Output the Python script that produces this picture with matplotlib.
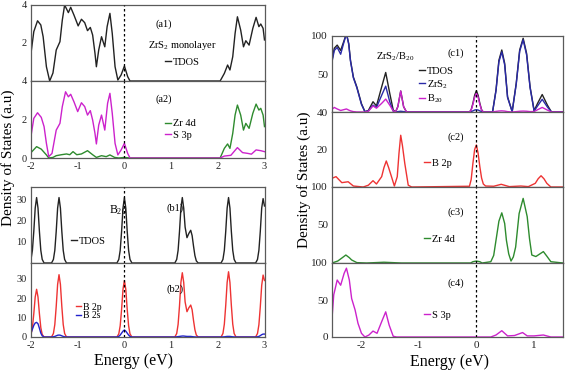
import matplotlib
matplotlib.use("Agg")
import matplotlib.pyplot as plt

plt.rcParams['font.family'] = ['Liberation Serif', 'DejaVu Serif']
plt.rcParams['mathtext.fontset'] = 'custom'
plt.rcParams['mathtext.rm'] = 'Liberation Serif'
plt.rcParams['mathtext.it'] = 'Liberation Serif'
plt.rcParams['axes.unicode_minus'] = False

W, H = 567, 371

# ---- ZrS2 monolayer (a1, a2), energy in eV ----
a1_x = [-2.0, -1.94, -1.86, -1.79, -1.74, -1.67, -1.6, -1.53, -1.46, -1.38, -1.33, -1.28, -1.2,
        -1.15, -1.08, -0.99, -0.92, -0.85, -0.79, -0.73, -0.68, -0.63, -0.6, -0.55, -0.49, -0.42,
        -0.37, -0.31, -0.26, -0.2, -0.14, -0.07, 0.0, 0.07, 0.12, 2.05, 2.14, 2.21, 2.26, 2.32,
        2.37, 2.42, 2.49, 2.55, 2.6, 2.67, 2.75, 2.82, 2.88, 2.92, 2.97, 3.0]
a1_tdos = [1.46, 2.6, 3.17, 2.95, 2.33, 0.75, 0.0, 0.42, 1.63, 2.07, 3.2, 4.0, 3.6, 3.88, 3.47,
           2.9, 3.25, 3.07, 2.65, 2.82, 2.42, 1.46, 0.75, 1.63, 2.33, 1.8, 2.86, 3.56, 2.5, 0.75,
           0.05, 0.32, 0.79, 0.23, 0.0, 0.0, 0.4, 0.84, 0.58, 1.28, 2.5, 3.38, 2.68, 1.8, 2.12,
           1.89, 2.77, 3.35, 2.86, 3.0, 2.77, 2.16]

s3p_a_x = [-2.0, -1.94, -1.86, -1.78, -1.72, -1.67, -1.62, -1.55, -1.46, -1.38, -1.33, -1.26,
           -1.2, -1.15, -1.08, -1.0, -0.92, -0.85, -0.79, -0.73, -0.68, -0.63, -0.6, -0.55, -0.49,
           -0.42, -0.36, -0.31, -0.26, -0.2, -0.14, -0.07, 0.0, 0.07, 0.12, 2.05, 2.14, 2.28,
           2.42, 2.53, 2.64, 2.72, 2.82, 2.92, 3.0]
s3p_a_y = [1.14, 2.06, 2.35, 2.11, 1.63, 0.76, 0.07, 0.24, 1.45, 1.8, 2.67, 3.44, 3.18, 3.31,
           2.92, 2.41, 2.87, 2.67, 2.23, 2.46, 1.97, 1.28, 0.73, 1.71, 2.23, 1.45, 2.84, 3.36,
           2.32, 0.76, 0.16, 0.42, 0.76, 0.24, 0.0, 0.0, 0.1, 0.14, 0.54, 0.28, 0.24, 0.2, 0.42,
           0.38, 0.33]

zr4d_a_x = [-2.0, -1.88, -1.78, -1.67, -1.62, -1.53, -1.46, -1.35, -1.24, -1.17, -1.1, -1.02,
            -0.92, -0.79, -0.68, -0.6, -0.49, -0.39, -0.31, -0.21, -0.12, 0.0, 0.12, 2.05, 2.14,
            2.21, 2.26, 2.32, 2.37, 2.42, 2.49, 2.55, 2.6, 2.67, 2.75, 2.82, 2.88, 2.92, 2.97, 3.0]
zr4d_a_y = [0.28, 0.59, 0.46, 0.16, 0.0, 0.03, 0.12, 0.17, 0.21, 0.17, 0.33, 0.17, 0.21, 0.38,
            0.17, 0.03, 0.12, 0.07, 0.16, 0.03, 0.0, 0.03, 0.0, 0.0, 0.5, 0.73, 0.5, 1.28, 2.23,
            2.75, 2.23, 1.45, 1.8, 1.54, 2.32, 2.8, 2.49, 2.58, 2.23, 1.63]

# ---- B20 (b1, b2) ----
b_x = [-2.0, -1.97, -1.94, -1.91, -1.88, -1.85, -1.82, -1.79, -1.76, -1.72,
       -1.56, -1.52, -1.49, -1.46, -1.43, -1.40, -1.37, -1.34, -1.31, -1.28, -1.24,
       -0.16, -0.12, -0.09, -0.06, -0.03, 0.0, 0.03, 0.06, 0.09, 0.12, 0.16,
       1.08, 1.12, 1.15, 1.18, 1.21, 1.24, 1.27, 1.30, 1.34, 1.38, 1.42, 1.45, 1.48, 1.51, 1.54, 1.58,
       2.07, 2.11, 2.14, 2.17, 2.20, 2.23, 2.26, 2.29, 2.32, 2.35, 2.39,
       2.81, 2.85, 2.88, 2.91, 2.94, 2.97, 3.0]
b1_tdos = [1.7, 6, 15, 26, 31, 26, 15, 6, 1.7, 0,
           0, 1.7, 6, 15, 26, 31, 26, 15, 6, 1.7, 0,
           0, 1.7, 6, 15, 26, 31, 26, 15, 6, 1.7, 0,
           0, 1.7, 6, 15, 26, 31, 26, 17, 12, 14, 15.5, 13, 8, 3.5, 1, 0,
           0, 1.7, 6, 15, 26, 31, 26, 15, 6, 1.7, 0,
           0, 1.7, 6, 15, 26, 30.5, 27]
b2_2p = [1.3, 4.8, 12, 20.5, 24.5, 20.5, 12, 4.8, 1.3, 0,
         0, 1.8, 6.4, 15.7, 27, 32, 27, 15.7, 6.4, 1.8, 0,
         0, 1.6, 5.8, 14.2, 24.5, 29, 24.5, 14.2, 5.8, 1.6, 0,
         0, 1.8, 6.5, 16, 28, 33, 28, 18, 13, 15, 16.4, 14, 8.5, 3.7, 1, 0,
         0, 1.8, 6.6, 16.3, 28, 33.5, 28, 16.3, 6.6, 1.8, 0,
         0, 1.8, 6.3, 15.5, 26.5, 31.8, 29]
b2_2s = [2, 4, 6, 7.2, 7.5, 6.8, 4.5, 2, 0.6, 0,
         0, 0.1, 0.3, 0.6, 0.9, 1, 0.9, 0.6, 0.3, 0.1, 0,
         0, 0.3, 1, 2, 3, 3.6, 3, 2, 1, 0.3, 0,
         0, 0.1, 0.2, 0.3, 0.4, 0.5, 0.5, 0.4, 0.3, 0.3, 0.3, 0.2, 0.1, 0.05, 0, 0,
         0, 0.05, 0.1, 0.2, 0.3, 0.3, 0.3, 0.2, 0.1, 0.05, 0,
         0, 0.1, 0.3, 0.7, 1.2, 1.5, 1.5]

# ---- ZrS2/B20 (c1..c4) ----
c1_x = [-2.5, -2.46, -2.41, -2.35, -2.3, -2.25, -2.21, -2.18, -2.13, -2.07, -1.99, -1.93, -1.87,
        -1.79, -1.73, -1.64, -1.57, -1.5, -1.44, -1.4, -1.36, -1.31, -1.26, -1.21, -0.12, -0.09,
        -0.06, -0.03, 0.0, 0.03, 0.06, 0.09, 0.12, 0.28, 0.34, 0.39, 0.44, 0.49, 0.54, 0.62,
        0.69, 0.75, 0.81, 0.87, 0.93, 1.0, 1.06, 1.14, 1.23, 1.3, 1.5]
c1_tdos = [68, 84, 88, 81, 92, 103, 90, 68, 46, 33, 11, 0.4, 2, 13.5, 8, 33, 52, 24.5, 2.6, 0, 7,
           27.6, 7, 0, 0, 3, 11.4, 22, 28, 22, 11.4, 3, 0, 0, 29, 68, 81.6, 64, 20, 0.5, 37.7,
           81.6, 97, 77, 33, 1.8, 11.4, 23, 9, 0, 0]
c1_zrs2 = [66, 81, 85, 76, 90, 103, 89, 67, 45, 32, 10, 0.4, 1.5, 9, 6, 22, 34, 13.5, 1, 0, 0.5,
           1, 0.5, 0, 0, 0.5, 1.5, 2.6, 3, 2.6, 1.5, 0.5, 0, 0, 28, 66, 79, 62, 19, 0.5, 36.5,
           80, 95, 75, 32, 1.2, 8, 16.7, 6.5, 0, 0]
c1_b20 = [3.5, 6, 4, 2, 3, 4, 2.5, 1.5, 0.5, 0, 0, 0, 1, 8, 5, 11.4, 17, 9, 1.5, 0, 7, 27.6, 7,
          0, 0, 2.5, 10, 19.5, 24.5, 19.5, 10, 2.5, 0, 0, 0.8, 1.3, 1.5, 1.2, 0.5, 0, 0.5, 1,
          1.2, 1, 0.5, 0.6, 3, 6, 2.5, 0, 0]

c2_x = [-2.5, -2.43, -2.33, -2.22, -2.13, -1.96, -1.87, -1.79, -1.73, -1.64, -1.6, -1.56, -1.52,
        -1.47, -1.42, -1.37, -1.34, -1.31, -1.28, -1.24, -1.18, -1.12, -0.12, -0.09, -0.06,
        -0.03, 0.0, 0.03, 0.06, 0.09, 0.12, 0.16, 0.3, 0.43, 0.57, 0.77, 0.9, 1.02, 1.07, 1.12,
        1.17, 1.22, 1.29, 1.5]
c2_b2p = [11.6, 13.8, 5.8, 7, 1.3, 0, 2.4, 8.4, 4, 13.8, 26, 34.7, 26, 13.8, 1.3, 13.8, 45, 69,
          55, 31.6, 2.4, 0, 1, 10, 31.6, 50, 56, 45, 27, 12, 4, 1.3, 1, 3.6, 0.5, 1.3, 0.5, 4.9,
          11, 15, 11, 4.9, 0, 0]

c3_x = [-2.5, -2.4, -2.33, -2.26, -2.2, -2.16, -2.07, -1.9, -1.6, -1.3, -0.1, -0.06, 0.0, 0.06,
        0.1, 0.25, 0.3, 0.34, 0.39, 0.44, 0.49, 0.52, 0.56, 0.6, 0.64, 0.68, 0.74, 0.81, 0.88,
        0.92, 0.96, 1.03, 1.1, 1.16, 1.22, 1.29, 1.5]
c3_zr4d = [0, 2.6, 6.5, 10.5, 7, 4, 0.5, 0, 1, 0, 0, 1.7, 2.6, 1.7, 0, 1.7, 10, 30, 55, 66, 52,
           30, 12, 2.6, 8, 21, 65, 85, 61, 32, 10.5, 8.5, 12, 15, 9, 1.7, 0]

c4_x = [-2.5, -2.47, -2.41, -2.35, -2.29, -2.25, -2.2, -2.16, -2.1, -2.05, -1.99, -1.93, -1.86,
        -1.79, -1.72, -1.64, -1.57, -1.51, -1.44, -1.38, 0.25, 0.34, 0.44, 0.54, 0.66, 0.8,
        0.88, 1.0, 1.16, 1.29, 1.5]
c4_s3p = [25, 57, 77, 70, 86, 93, 77, 52, 36.5, 18.5, 5, 0, 2.7, 8, 5, 20.7, 34, 16, 1, 0, 0,
          2.7, 8.5, 1.5, 2, 6, 1.5, 1.5, 2.7, 0, 0]

left_xticks = [-2, -1, 0, 1, 2, 3]
right_xticks = [-2, -1, 0, 1]

BLACK = '#222222'
GREEN = '#2e8b2e'
MAGENTA = '#cc22cc'
RED = '#ee3333'
BLUE = '#2222cc'
NAVY = '#2a2aa8'
SPINE = '#5a5a5a'

fig = plt.figure(figsize=(W / 100, H / 100), dpi=100)


def panel(x0, x1, y0, y1):
    ax = fig.add_axes([x0 / W, 1 - y1 / H, (x1 - x0) / W, (y1 - y0) / H])
    for s in ax.spines.values():
        s.set_color(SPINE)
        s.set_linewidth(0.9)
    ax.tick_params(length=0, pad=3, labelsize=7.5, colors='#222222')
    ax.axvline(0, color='k', ls=(0, (2, 2)), lw=0.9, zorder=5)
    return ax


def ftext(px, py, s, size=7.5, **kw):
    fig.text(px / W, 1 - py / H, s, fontsize=size, ha='center', va='center', **kw)


def leg(ax, px, py, size=7.5, spacing=0.3):
    ax.legend(loc='center left', bbox_to_anchor=(px / W, 1 - py / H),
              bbox_transform=fig.transFigure, frameon=False, fontsize=size,
              handlelength=0.55, handletextpad=0.2, borderpad=0, borderaxespad=0,
              labelspacing=spacing)


lw = 1.0
# a1
ax = panel(31, 264.5, 5, 81)
ax.plot(a1_x, a1_tdos, color=BLACK, lw=lw, label='TDOS')
ax.set_xlim(-2, 3)
ax.set_ylim(0, 4)
ax.set_yticks([2, 4])
ax.set_xticks(left_xticks)
ax.set_xticklabels([])
leg(ax, 165, 62)

# a2
ax = panel(31, 264.5, 81, 158)
ax.plot(zr4d_a_x, zr4d_a_y, color=GREEN, lw=lw, label='Zr 4d')
ax.plot(s3p_a_x, s3p_a_y, color=MAGENTA, lw=lw, label='S 3p')
ax.set_xlim(-2, 3)
ax.set_ylim(0, 4)
ax.set_yticks([0, 2, 4])
ax.set_xticks(left_xticks)
leg(ax, 165, 129.5, spacing=0.25)

# b1
ax = panel(31, 264.5, 187, 263)
ax.plot(b_x, b1_tdos, color=BLACK, lw=lw, label='TDOS')
ax.set_xlim(-2, 3)
ax.set_ylim(0, 36)
ax.set_yticks([10, 20, 30])
ax.set_xticks(left_xticks)
ax.set_xticklabels([])
leg(ax, 71, 241)

# b2
ax = panel(31, 264.5, 263, 337)
ax.plot(b_x, b2_2p, color=RED, lw=lw, label='B 2p')
ax.plot(b_x, b2_2s, color=BLUE, lw=lw, label='B 2s')
ax.set_xlim(-2, 3)
ax.set_ylim(0, 38)
ax.set_yticks([0, 10, 20, 30])
ax.set_xticks(left_xticks)
leg(ax, 76, 311.5, size=7, spacing=0.0)

# c1
ax = panel(332, 563, 36, 112)
ax.plot(c1_x, c1_tdos, color=BLACK, lw=lw, label='TDOS')
ax.plot(c1_x, c1_zrs2, color=NAVY, lw=lw, label='ZrS$_2$')
ax.plot(c1_x, c1_b20, color=MAGENTA, lw=lw, label='B$_{20}$')
ax.set_xlim(-2.5, 1.5)
ax.set_ylim(0, 100)
ax.set_yticks([0, 50, 100])
ax.set_yticklabels(['40', '50', '100'])
ax.tick_params(labelsize=8)
ax.set_xticks(right_xticks)
ax.set_xticklabels([])
leg(ax, 419, 86, spacing=0.2)

# c2
ax = panel(332, 563, 112, 187)
ax.plot(c2_x, c2_b2p, color=RED, lw=lw, label='B 2p')
ax.set_xlim(-2.5, 1.5)
ax.set_ylim(0, 100)
ax.set_yticks([0, 50])
ax.set_yticklabels(['100', '20'])
ax.tick_params(labelsize=8)
ax.set_xticks(right_xticks)
ax.set_xticklabels([])
leg(ax, 424, 163)

# c3
ax = panel(332, 563, 187, 263)
ax.plot(c3_x, c3_zr4d, color=GREEN, lw=lw, label='Zr 4d')
ax.set_xlim(-2.5, 1.5)
ax.set_ylim(0, 100)
ax.set_yticks([0, 50])
ax.set_yticklabels(['100', '50'])
ax.tick_params(labelsize=8)
ax.set_xticks(right_xticks)
ax.set_xticklabels([])
leg(ax, 424, 239)

# c4
ax = panel(332, 563, 263, 337)
ax.plot(c4_x, c4_s3p, color=MAGENTA, lw=lw, label='S 3p')
ax.set_xlim(-2.5, 1.5)
ax.set_ylim(0, 100)
ax.set_yticks([0, 50])
ax.set_yticklabels(['0', '50'])
ax.tick_params(labelsize=8)
ax.set_xticks(right_xticks)
leg(ax, 424, 315)

# panel annotations
ftext(164, 24, '(a1)')
ftext(182, 45, 'ZrS$_2$ monolayer')
ftext(164, 99, '(a2)')
ftext(118, 210, 'B$_{20}$', size=8.5)
ftext(175, 208, '(b1)')
ftext(175, 289, '(b2)')
ftext(395, 57, 'ZrS$_2$/B$_{20}$')
ftext(456, 53, '(c1)')
ftext(456, 137, '(c2)')
ftext(456, 212, '(c3)')
ftext(456, 283, '(c4)')

# axis titles
ftext(8.5, 158, 'Density of States (a.u)', size=11, rotation=90)
ftext(304, 180, 'Density of States (a.u)', size=11, rotation=90)
ftext(134, 361, 'Energy (eV)', size=11.5)
ftext(449, 362, 'Energy (eV)', size=11.5)

fig.savefig('out.png', dpi=100)
